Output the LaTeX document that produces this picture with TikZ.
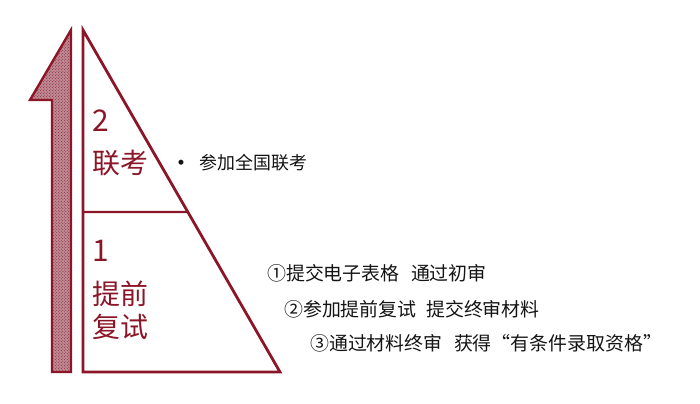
\documentclass[tikz,border=0pt]{standalone}
\usepackage{fontspec}
\setmainfont{Noto Sans CJK SC}
\usepackage{xcolor}
\usepackage{tikz}
\usetikzlibrary{patterns}
\definecolor{maroonred}{RGB}{139,22,40}
\definecolor{hatchpink}{RGB}{190,140,150}
\definecolor{inkgray}{RGB}{20,20,20}

\begin{document}
\begin{tikzpicture}[x=1bp,y=-1bp,
		stage/.style={text=maroonred,anchor=west,inner sep=0pt,font=\fontsize{28}{30}\selectfont},
		item/.style={text=inkgray,anchor=west,inner sep=0pt,font=\fontsize{19}{21}\selectfont}]
	\useasboundingbox (0,0) rectangle (700,403);

	% The arrow
	\draw[maroonred,line width=2.4bp,fill=hatchpink,postaction={pattern=crosshatch dots,pattern color=maroonred}]
		(71,30) -- (71,372) -- (52,372) -- (52,100) -- (30,100) -- cycle;

	% The pyramid
	\coordinate (top) at (83,30);
	\coordinate (bottomright) at (280,372);
	\coordinate (bottomleft) at (83,372);
	\draw[maroonred,line width=2.8bp,line join=miter] (top) -- (bottomright) -- (bottomleft) -- cycle;
	\path (top) -- (bottomright) coordinate[pos=0.532] (split);
	\coordinate (splitleft) at (83,212);
	\draw[maroonred,line width=2.4bp] (splitleft) -- (split);

	% Stages
	\node[stage,font=\fontsize{30}{32}\selectfont] (two) at (92,121) {2};
	\node[stage] (lk) at (92,163) {联考};
	\node[stage,font=\fontsize{30}{32}\selectfont] (one) at (92,251) {1};
	\node[stage] (tq) at (92,294) {提前};
	\node[stage] (fs) at (92,327) {复试};

	% Items
	\node[item,font=\fontsize{18}{20}\selectfont] (joint) at (172,163) {\textbf{•}\hspace{0.55em}参加全国联考};
	\node[item] (stepA) at (267,273) {①提交电子表格\hspace{0.6em}通过初审};
	\node[item] (stepB) at (284,309) {②参加提前复试\hspace{0.5em}提交终审材料};
	\node[item] (stepC) at (310,343) {③通过材料终审\hspace{0.6em}获得“有条件录取资格”};
\end{tikzpicture}
\end{document}
